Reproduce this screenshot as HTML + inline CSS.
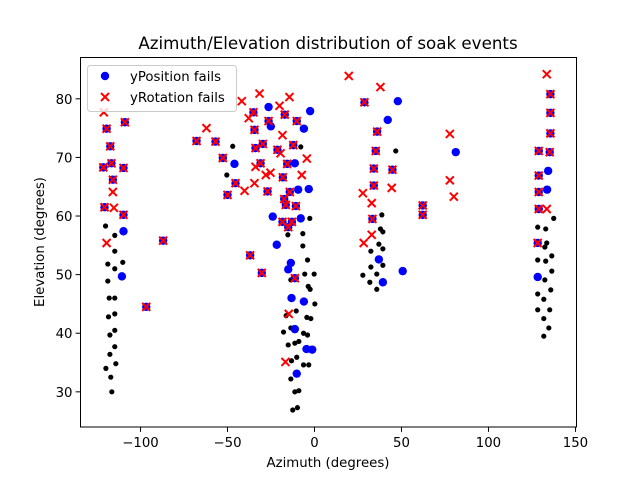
<!DOCTYPE html>
<html><head><meta charset="utf-8"><style>
body{margin:0;background:#fff;}
svg text{font-family:"DejaVu Sans","Liberation Sans",sans-serif;fill:#000;}
</style></head><body>
<svg id="chart" width="640" height="480" xmlns="http://www.w3.org/2000/svg">
<rect x="0" y="0" width="640" height="480" fill="#fff"/>
<text x="328" y="49" font-size="16.7" text-anchor="middle">Azimuth/Elevation distribution of soak events</text>
<g id="plot"></g>
<rect x="80.5" y="57.5" width="496" height="369.5" fill="none" stroke="#000" stroke-width="1"/>
<g id="ticks"></g>
<text x="328" y="467" font-size="13.3" text-anchor="middle">Azimuth (degrees)</text>
<text x="44" y="242" font-size="13.3" text-anchor="middle" transform="rotate(-90 44 242)">Elevation (degrees)</text>
<g>
<rect x="87.5" y="65.5" width="149" height="46" rx="3" fill="#fff" fill-opacity="0.8" stroke="#ccc"/>
<circle cx="105" cy="76" r="4.2" fill="#0000ff"/>
<text x="130" y="81" font-size="13.3">yPosition fails</text>
<path d="M101,93 L109,101 M101,101 L109,93" stroke="#ff0000" stroke-width="2"/>
<text x="130" y="102" font-size="13.3">yRotation fails</text>
</g>
</svg>
<script>
const xTicks=[-100,-50,0,50,100,150];
const yTicks=[30,40,50,60,70,80];
const allAz=[-120.1,-114.8,-114.8,-118.8,-114.8,-110.2,-118.8,-118.0,-114.8,-118.4,-114.8,-117.6,-114.8,-114.8,-117.6,-114.2,-119.9,-117.1,-116.5,-47.0,-50.4,-7.9,-2.7,-15.3,-6.7,-6.7,-4.0,-5.6,-0.2,-13.6,-3.6,-2.5,0.2,-10.5,-16.3,-4.4,-2.1,-17.8,-13.6,-6.3,-4.0,-15.1,-11.3,-9.0,-13.2,-10.2,-6.3,-3.3,-13.6,-11.3,-9.0,-12.5,-9.8,46.7,38.7,37.9,39.3,37.0,32.4,39.3,32.4,39.3,35.8,27.8,31.8,35.8,137.5,128.3,132.9,133.5,132.4,128.3,132.9,136.4,136.4,132.4,128.3,135.8,131.8,128.3,135.2,131.8,134.7,131.8];
const allEl=[58.3,56.7,54.0,51.8,51.0,52.1,48.9,46.0,46.0,42.8,43.3,39.7,40.5,37.7,36.4,34.8,34.0,32.5,30.0,71.9,67.0,71.8,59.6,56.8,57.0,54.9,52.5,50.1,50.1,49.1,48.0,47.5,45.0,43.8,43.0,42.7,42.5,40.2,40.9,40.0,39.7,38.0,38.3,38.6,35.3,35.9,34.6,34.6,32.2,30.0,30.2,26.9,27.3,71.1,60.2,57.8,57.3,55.2,54.0,54.4,51.3,51.6,50.1,49.9,48.7,47.5,59.6,58.1,57.8,55.4,54.7,52.5,52.3,53.2,50.6,49.1,46.7,47.4,45.8,44.0,44.0,42.5,40.9,39.5];
const bothAz=[-119.5,-117.4,-121.4,-116.7,-115.9,-120.7,-109.0,-109.8,-109.8,-87.0,-96.7,-67.8,-56.9,-52.7,-45.4,-50.0,-37.0,-35.1,-34.5,-33.9,-30.3,-29.7,-26.4,-17.1,-10.2,-21.3,-12.2,-31.0,-15.7,-18.2,-27.0,-14.2,-17.4,-16.5,-10.7,-18.4,-13.0,-15.1,-11.3,28.7,36.0,35.2,34.1,44.8,34.1,33.3,62.2,62.2,135.6,135.6,135.6,128.9,135.2,128.9,128.9,128.9,128.3];
const bothEl=[74.9,71.9,68.3,69.0,66.2,61.5,76.0,68.2,60.2,55.8,44.5,72.8,72.7,69.9,65.6,63.6,53.3,77.7,74.7,71.6,50.3,72.3,76.2,77.3,76.2,71.3,72.1,69.0,68.9,66.6,64.2,64.1,62.9,61.9,61.7,59.0,59.0,58.1,49.4,79.4,74.4,71.1,68.1,67.9,65.2,59.5,61.8,60.2,80.8,77.6,74.1,71.1,70.9,66.9,64.1,61.2,55.4];
const posOnlyAz=[-109.8,-110.7,-46.0,-26.4,-25.1,-6.1,-2.5,-11.3,-9.4,-3.3,-7.9,-24.0,-21.7,-13.6,-15.1,-13.2,-6.1,-11.3,-4.6,-1.3,-10.2,47.9,42.1,81.2,37.0,50.7,39.3,134.3,133.7,128.3];
const posOnlyEl=[57.4,49.7,68.9,78.6,75.3,74.9,77.9,69.0,64.5,64.6,59.6,59.9,55.1,52.0,50.9,46.0,45.4,40.7,37.3,37.2,33.1,79.6,76.4,70.9,52.6,50.6,48.7,67.7,64.5,49.6];
const rotOnlyAz=[-121.1,-115.9,-115.3,-119.5,-62.1,-41.8,-37.8,-40.2,-34.5,-33.9,-31.6,-20.1,-14.4,-18.4,-19.5,-4.4,-7.3,-28.0,-25.3,-14.8,-16.7,19.7,37.9,77.8,77.8,80.1,44.4,27.8,32.9,32.9,28.3,133.5,133.5];
const rotOnlyEl=[77.7,64.1,61.4,55.4,75.0,79.6,76.7,64.3,65.6,68.4,80.9,78.8,80.3,73.8,70.7,69.8,67.0,67.0,67.4,43.3,35.1,83.9,82.0,74.0,66.1,63.3,64.8,63.9,62.2,56.8,55.4,84.2,61.2];

const X0=80.5,X1=576.5,Y0=427,Y1=57.5;
const xMin=-134.5,xMax=150.6,yMin=24.0,yMax=87.05;
function sx(v){return X0+(v-xMin)/(xMax-xMin)*(X1-X0);}
function sy(v){return Y0-(v-yMin)/(yMax-yMin)*(Y0-Y1);}
const NS='http://www.w3.org/2000/svg';
const plot=document.getElementById('plot');
const ticks=document.getElementById('ticks');
function mk(tag,attrs,parent){const e=document.createElementNS(NS,tag);for(const k in attrs)e.setAttribute(k,attrs[k]);parent.appendChild(e);return e;}

allAz.forEach((a,i)=>{
  const c=mk('circle',{cx:sx(a),cy:sy(allEl[i]),r:2.6,fill:'#000'},plot);
  
  
});
const posAz=bothAz.concat(posOnlyAz), posEl=bothEl.concat(posOnlyEl);
posAz.forEach((a,i)=>{
  const c=mk('circle',{cx:sx(a),cy:sy(posEl[i]),r:4.2,fill:'#0000ff'},plot);
  
  
});
const rotAz=bothAz.concat(rotOnlyAz), rotEl=bothEl.concat(rotOnlyEl);
rotAz.forEach((a,i)=>{
  const x=sx(a),y=sy(rotEl[i]),d=4;
  const p=mk('path',{d:`M${x-d},${y-d} L${x+d},${y+d} M${x-d},${y+d} L${x+d},${y-d}`,stroke:'#ff0000','stroke-width':2,fill:'none'},plot);
  
  
});
xTicks.forEach(t=>{
  const x=sx(t);
  const l=mk('line',{x1:x,x2:x,y1:Y0,y2:Y0+4.9,stroke:'#000'},ticks);
  
  
  const tx=mk('text',{x:x,y:Y0+20,'font-size':13.3,'text-anchor':'middle'},ticks);
  tx.textContent=String(t).replace('-','\u2212');
  
  
});
yTicks.forEach(t=>{
  const y=sy(t);
  const l=mk('line',{x1:X0-4.9,x2:X0,y1:y,y2:y,stroke:'#000'},ticks);
  
  
  const tx=mk('text',{x:X0-8,y:y+5,'font-size':13.3,'text-anchor':'end'},ticks);
  tx.textContent=String(t);
  
  
});
</script>
</body></html>
